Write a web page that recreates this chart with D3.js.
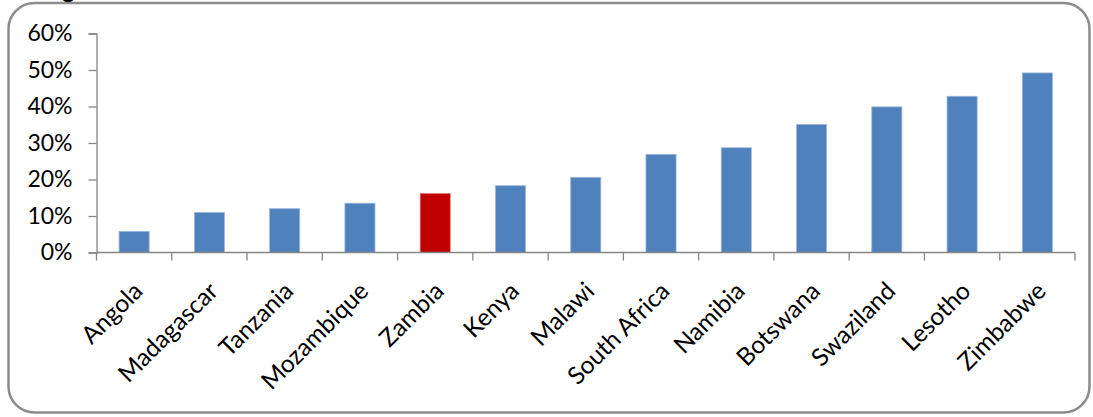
<!DOCTYPE html>
<html><head><meta charset="utf-8">
<script src="https://cdn.jsdelivr.net/npm/d3@7"></script>
<style>
html,body{margin:0;padding:0;background:#fff;}
text{font-family:Lato,"Liberation Sans",sans-serif;}
</style></head>
<body><svg id="c" width="1093" height="417"></svg>
<script>
const categories = ["Angola","Madagascar","Tanzania","Mozambique","Zambia","Kenya","Malawi","South Africa","Namibia","Botswana","Swaziland","Lesotho","Zimbabwe"];
const values = [0.058,0.110,0.120,0.135,0.162,0.183,0.206,0.269,0.287,0.351,0.399,0.428,0.492];
const highlight = ["Zambia"];
const yTicks = [0,0.1,0.2,0.3,0.4,0.5,0.6];

const svg = d3.select("#c");
// frame
svg.append("rect").attr("x",8.5).attr("y",3).attr("width",1081).attr("height",409.5)
  .attr("rx",26).attr("ry",26).attr("fill","#fff").attr("stroke","#8c8c8c").attr("stroke-width",2.5);
// cut-off title descender (title lies above the visible area in the reference)
svg.append("text").attr("x",62).attr("y",-2).attr("font-size",24).attr("font-weight","bold").attr("fill","#000").text("g");

const pLeft = 96.5, pRight = 1075, pTop = 33.5, pBottom = 252.5;
const x = d3.scaleBand().domain(categories).range([pLeft,pRight]).paddingInner(0.6).paddingOuter(0.3);
const y = d3.scaleLinear().domain([0,0.6]).range([pBottom,pTop]);
const step = x.step();
const axisColor = "#868686";

// bars
svg.append("g").selectAll("rect").data(categories).join("rect")
  .attr("x",d=>x(d)).attr("width",x.bandwidth())
  .attr("y",(d,i)=>y(values[i])).attr("height",(d,i)=>y(0)-y(values[i]))
  .attr("fill",d=>highlight.includes(d)?"#C00000":"#4F81BD")
  .attr("stroke",d=>highlight.includes(d)?"#e08080":"#9db8de").attr("stroke-width",0.8);

// y axis
const ya = svg.append("g").attr("transform",`translate(${pLeft},0)`)
  .call(d3.axisLeft(y).tickValues(yTicks).tickFormat(d3.format(".0%")).tickSize(8).tickPadding(16));
ya.select(".domain").attr("stroke",axisColor).attr("stroke-width",1.3);
ya.selectAll(".tick line").attr("stroke",axisColor).attr("stroke-width",1.3);
ya.selectAll(".tick text").attr("font-size",23).attr("fill","#000").attr("font-family","Lato");

// x axis line & ticks
svg.append("line").attr("x1",pLeft).attr("x2",pRight).attr("y1",pBottom).attr("y2",pBottom)
  .attr("stroke",axisColor).attr("stroke-width",1.3);
svg.append("g").selectAll("line").data(d3.range(categories.length+1)).join("line")
  .attr("x1",i=>pLeft+i*step).attr("x2",i=>pLeft+i*step).attr("y1",pBottom).attr("y2",pBottom+8)
  .attr("stroke",axisColor).attr("stroke-width",1.3);

// x labels
svg.append("g").selectAll("text").data(categories).join("text")
  .attr("transform",d=>`translate(${x(d)+x.bandwidth()/2+4},${pBottom+34}) rotate(-45)`)
  .attr("text-anchor","end").attr("dy","0.35em").attr("font-size",24.5).attr("fill","#000")
  .text(d=>d);
</script></body></html>
